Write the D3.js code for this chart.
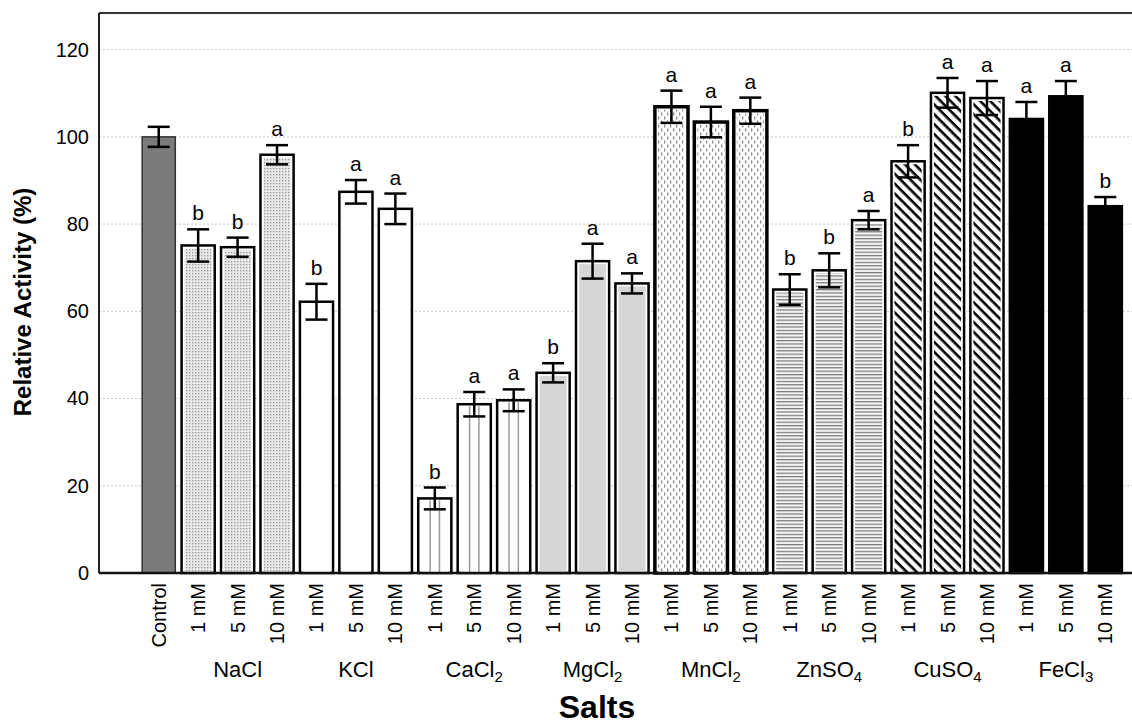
<!DOCTYPE html>
<html>
<head>
<meta charset="utf-8">
<script src="https://cdn.jsdelivr.net/npm/d3@7"></script>
<style>
  body { margin: 0; background: #fff; }
  text { font-family: "Liberation Sans", Arial, sans-serif; fill: #000; }
</style>
</head>
<body>
<script>
// data
var salts = ["Control", "NaCl", "KCl", "CaCl2", "MgCl2", "MnCl2", "ZnSO4", "CuSO4", "FeCl3"];
var concLabels = ["Control",
  "1 mM", "5 mM", "10 mM", "1 mM", "5 mM", "10 mM", "1 mM", "5 mM", "10 mM",
  "1 mM", "5 mM", "10 mM", "1 mM", "5 mM", "10 mM", "1 mM", "5 mM", "10 mM",
  "1 mM", "5 mM", "10 mM", "1 mM", "5 mM", "10 mM"];
var barSalt = [0, 1, 1, 1, 2, 2, 2, 3, 3, 3, 4, 4, 4, 5, 5, 5, 6, 6, 6, 7, 7, 7, 8, 8, 8];
var activity = [100, 75.1, 74.7, 95.9, 62.2, 87.4, 83.5, 17.1, 38.7, 39.6, 45.9, 71.5, 66.4,
  106.9, 103.4, 106.0, 65.0, 69.4, 80.9, 94.4, 110.1, 108.9, 104.1, 109.3, 84.1];
var errors = [2.3, 3.7, 2.2, 2.2, 4.1, 2.7, 3.5, 2.5, 2.8, 2.5, 2.2, 4.0, 2.3,
  3.7, 3.5, 3.0, 3.5, 3.9, 2.1, 3.7, 3.4, 3.9, 3.9, 3.5, 2.1];
var letters = ["", "b", "b", "a", "b", "a", "a", "b", "a", "a", "b", "a", "a",
  "a", "a", "a", "b", "b", "a", "b", "a", "a", "a", "a", "b"];
var yTicks = [0, 20, 40, 60, 80, 100, 120];

// Define SVG area dimensions
var svgWidth = 1132;
var svgHeight = 727;

var plotLeft = 99, plotTop = 13, plotBottom = 573, plotRight = 1140;

var svg = d3.select("body")
  .append("svg")
  .attr("width", svgWidth)
  .attr("height", svgHeight);

// patterns for the salts
var defs = svg.append("defs");

var pNa = defs.append("pattern").attr("id", "p-nacl")
  .attr("patternUnits", "userSpaceOnUse").attr("width", 3).attr("height", 3);
pNa.append("rect").attr("width", 3).attr("height", 3).attr("fill", "#e8e8e8");
pNa.append("rect").attr("width", 1.3).attr("height", 1.3).attr("fill", "#999");

var pMn = defs.append("pattern").attr("id", "p-mncl")
  .attr("patternUnits", "userSpaceOnUse").attr("width", 6).attr("height", 8);
pMn.append("rect").attr("width", 6).attr("height", 8).attr("fill", "#fff");
pMn.append("rect").attr("x", 1).attr("y", 0.5).attr("width", 1.3).attr("height", 3).attr("fill", "#8a8a8a");
pMn.append("rect").attr("x", 4).attr("y", 4.5).attr("width", 1.3).attr("height", 3).attr("fill", "#8a8a8a");

var pZn = defs.append("pattern").attr("id", "p-znso4")
  .attr("patternUnits", "userSpaceOnUse").attr("width", 6).attr("height", 3.4);
pZn.append("rect").attr("width", 6).attr("height", 3.4).attr("fill", "#f4f4f4");
pZn.append("rect").attr("y", 0).attr("width", 6).attr("height", 1.2).attr("fill", "#777");

var pCu = defs.append("pattern").attr("id", "p-cuso4")
  .attr("patternUnits", "userSpaceOnUse").attr("width", 7).attr("height", 7)
  .attr("patternTransform", "rotate(45)");
pCu.append("rect").attr("width", 7).attr("height", 7).attr("fill", "#fff");
pCu.append("rect").attr("width", 7).attr("height", 2.6).attr("fill", "#000");

// styles per salt group
var saltFill = ["#7b7b7b", "url(#p-nacl)", "#fff", "#fff", "#d6d6d6",
  "url(#p-mncl)", "url(#p-znso4)", "url(#p-cuso4)", "#000"];

// scales
var xScale = d3.scaleBand()
  .domain(d3.range(concLabels.length))
  .range([139, 1125])
  .paddingInner(0.16)
  .paddingOuter(0.08);

var yScale = d3.scaleLinear()
  .domain([0, 128.4])
  .range([plotBottom, plotTop]);

// grid lines
svg.append("g")
  .selectAll("line")
  .data(yTicks.slice(1))
  .enter()
  .append("line")
  .attr("x1", plotLeft)
  .attr("x2", plotRight)
  .attr("y1", d => yScale(d))
  .attr("y2", d => yScale(d))
  .attr("stroke", "#c8c8c8")
  .attr("stroke-width", 1)
  .attr("stroke-dasharray", "2,2");

// y axis labels
var yAxis = d3.axisLeft(yScale).tickValues(yTicks).tickSize(0).tickPadding(10);
var yG = svg.append("g")
  .attr("transform", `translate(${plotLeft}, 0)`)
  .call(yAxis);
yG.select(".domain").remove();
yG.selectAll("text")
  .style("font-family", "'Liberation Sans', Arial, sans-serif")
  .style("font-size", "20px")
  .attr("fill", "#000");

// bars
var bw = xScale.bandwidth();
var bars = svg.append("g")
  .selectAll("g")
  .data(activity)
  .enter()
  .append("g");

bars.append("rect")
  .attr("x", (d, i) => xScale(i))
  .attr("y", d => yScale(d))
  .attr("width", bw)
  .attr("height", d => plotBottom - yScale(d))
  .attr("fill", (d, i) => barSalt[i] == 0 || barSalt[i] == 8 ? saltFill[barSalt[i]] : "#fff")
  .attr("stroke", (d, i) => barSalt[i] == 0 ? "#333" : "#000")
  .attr("stroke-width", (d, i) => barSalt[i] == 5 ? 3.5 : barSalt[i] == 0 ? 1.5 : 2.5);

// inner fill leaves a thin white gap inside the outline
bars.filter((d, i) => barSalt[i] != 0 && barSalt[i] != 8)
  .append("rect")
  .attr("x", function(d) { return xScale(activity.indexOf(d)) + 3; })
  .attr("y", d => yScale(d) + 3)
  .attr("width", bw - 6)
  .attr("height", d => plotBottom - yScale(d) - 3)
  .attr("fill", function(d) { return saltFill[barSalt[activity.indexOf(d)]]; });

// vertical lines inside the CaCl2 bars
bars.filter((d, i) => barSalt[i] == 3)
  .selectAll("line.v")
  .data(d => [[d, 0.36], [d, 0.64]])
  .enter()
  .append("line")
  .attr("x1", function(p) { return xScale(activity.indexOf(p[0])) + bw * p[1]; })
  .attr("x2", function(p) { return xScale(activity.indexOf(p[0])) + bw * p[1]; })
  .attr("y1", p => yScale(p[0]) + 2)
  .attr("y2", plotBottom)
  .attr("stroke", "#999")
  .attr("stroke-width", 1.5);

// error bars
var capW = 11;
bars.append("line")
  .attr("x1", (d, i) => xScale(i) + bw / 2)
  .attr("x2", (d, i) => xScale(i) + bw / 2)
  .attr("y1", (d, i) => yScale(d + errors[i]))
  .attr("y2", (d, i) => yScale(d - errors[i]))
  .attr("stroke", "#000")
  .attr("stroke-width", 2.5);
bars.append("line")
  .attr("x1", (d, i) => xScale(i) + bw / 2 - capW)
  .attr("x2", (d, i) => xScale(i) + bw / 2 + capW)
  .attr("y1", (d, i) => yScale(d + errors[i]))
  .attr("y2", (d, i) => yScale(d + errors[i]))
  .attr("stroke", "#000")
  .attr("stroke-width", 2.5);
bars.append("line")
  .attr("x1", (d, i) => xScale(i) + bw / 2 - capW)
  .attr("x2", (d, i) => xScale(i) + bw / 2 + capW)
  .attr("y1", (d, i) => yScale(d - errors[i]))
  .attr("y2", (d, i) => yScale(d - errors[i]))
  .attr("stroke", "#000")
  .attr("stroke-width", 2.5);

// significance letters
bars.append("text")
  .attr("x", (d, i) => xScale(i) + bw / 2)
  .attr("y", (d, i) => yScale(d + errors[i]) - 9)
  .attr("text-anchor", "middle")
  .style("font-size", "21px")
  .text((d, i) => letters[i]);

// frame
svg.append("line")
  .attr("x1", plotLeft).attr("x2", plotRight)
  .attr("y1", plotTop).attr("y2", plotTop)
  .attr("stroke", "#333").attr("stroke-width", 2);
svg.append("line")
  .attr("x1", plotLeft).attr("x2", plotLeft)
  .attr("y1", plotTop).attr("y2", plotBottom)
  .attr("stroke", "#222").attr("stroke-width", 2);

// x axis with rotated concentration labels
var xAxis = d3.axisBottom(xScale)
  .tickSize(0)
  .tickFormat(i => concLabels[i]);
var xG = svg.append("g")
  .attr("transform", `translate(0, ${plotBottom})`)
  .call(xAxis);
xG.select(".domain")
  .attr("d", `M${plotLeft},0H${plotRight}`)
  .attr("stroke", "#111")
  .attr("stroke-width", 2.5);
xG.selectAll("text")
  .attr("transform", "rotate(-90)")
  .attr("x", -10)
  .attr("y", 0)
  .attr("dy", "0.35em")
  .attr("text-anchor", "end")
  .style("font-family", "'Liberation Sans', Arial, sans-serif")
  .style("font-size", "20px")
  .attr("fill", "#000");

// salt group names, digits as subscripts
var groupG = svg.append("g");
salts.forEach(function(s, k) {
  if (k == 0) return;
  var members = d3.range(activity.length).filter(i => barSalt[i] == k);
  var mid = members[Math.floor(members.length / 2)];
  var t = groupG.append("text")
    .attr("x", xScale(mid) + bw / 2)
    .attr("y", 677)
    .attr("text-anchor", "middle")
    .style("font-size", "22px");
  s.match(/[A-Za-z]+|\d+/g).forEach(function(part) {
    if (/\d/.test(part)) {
      t.append("tspan").attr("dy", 5).style("font-size", "15px").text(part);
      t.append("tspan").attr("dy", -5).text("");
    } else {
      t.append("tspan").text(part);
    }
  });
});

// axis titles
svg.append("text")
  .attr("x", 597)
  .attr("y", 718)
  .attr("text-anchor", "middle")
  .style("font-size", "32px")
  .style("font-weight", "bold")
  .text("Salts");

svg.append("text")
  .attr("transform", "translate(31, 302) rotate(-90)")
  .attr("text-anchor", "middle")
  .style("font-size", "24px")
  .style("font-weight", "bold")
  .text("Relative Activity (%)");
</script>
</body>
</html>
